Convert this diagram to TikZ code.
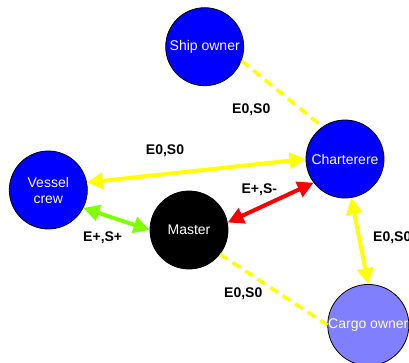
\documentclass[tikz,border=0pt]{standalone}
\usepackage{fontspec}
\setmainfont{Liberation Sans}
\usetikzlibrary{arrows.meta}
\definecolor{nodeblue}{HTML}{0000FF}
\definecolor{cargoblue}{HTML}{8080FF}
\definecolor{ylw}{HTML}{FFFF00}
\definecolor{grn}{HTML}{80FF00}
\definecolor{rd}{HTML}{FF0000}
\begin{document}
\begin{tikzpicture}[x=1pt,y=-1pt,
  actor/.style={circle,draw=black,line width=0.8pt,minimum size=78pt,inner sep=0pt,
    text=white,font=\fontsize{14}{16}\selectfont,align=center},
  lbl/.style={font=\fontsize{14}{16}\selectfont\bfseries,text=black,inner sep=0pt},
  dashlink/.style={draw=ylw,line width=3.5pt,dash pattern=on 9pt off 6pt},
  duplex/.style={line width=4pt,{Triangle[length=16pt,width=16pt]}-{Triangle[length=16pt,width=16pt]}}
]
\fill[white] (0,0) rectangle (409,362);
\useasboundingbox (0,0) rectangle (409,362);
\node[actor,fill=nodeblue] (ship) at (204.7,46.7) {Ship owner};
\node[actor,fill=nodeblue] (charter) at (345,159) {Charterere};
\node[actor,fill=nodeblue] (crew) at (48.3,190) {Vessel\\crew};
\node[actor,fill=black] (master) at (189,230) {Master};
\node[actor,fill=cargoblue] (cargo) at (368.3,325) {Cargo owner};

\draw[dashlink] (ship.-21) -- (charter.125);
\draw[dashlink] (master.-38) -- (cargo.west);
\draw[duplex,draw=ylw,fill=ylw] (crew.11) -- (charter.west);
\draw[duplex,draw=rd,fill=rd] (master.11) -- (charter.217);
\draw[duplex,draw=grn,fill=grn] (crew.-27) -- (master.west);
\draw[duplex,draw=ylw,fill=ylw] (charter.-81) -- (cargo.north);

\node[lbl] (l1) at (251.3,110) {E0,S0};
\node[lbl] (l2) at (165,150.7) {E0,S0};
\node[lbl] (l3) at (259.3,190) {E+,S-};
\node[lbl] (l4) at (102.7,237.7) {E+,S+};
\node[lbl,anchor=west] (l5) at (373,237.7) {E0,S0};
\node[lbl] (l6) at (243.3,293.3) {E0,S0};
\end{tikzpicture}
\end{document}
